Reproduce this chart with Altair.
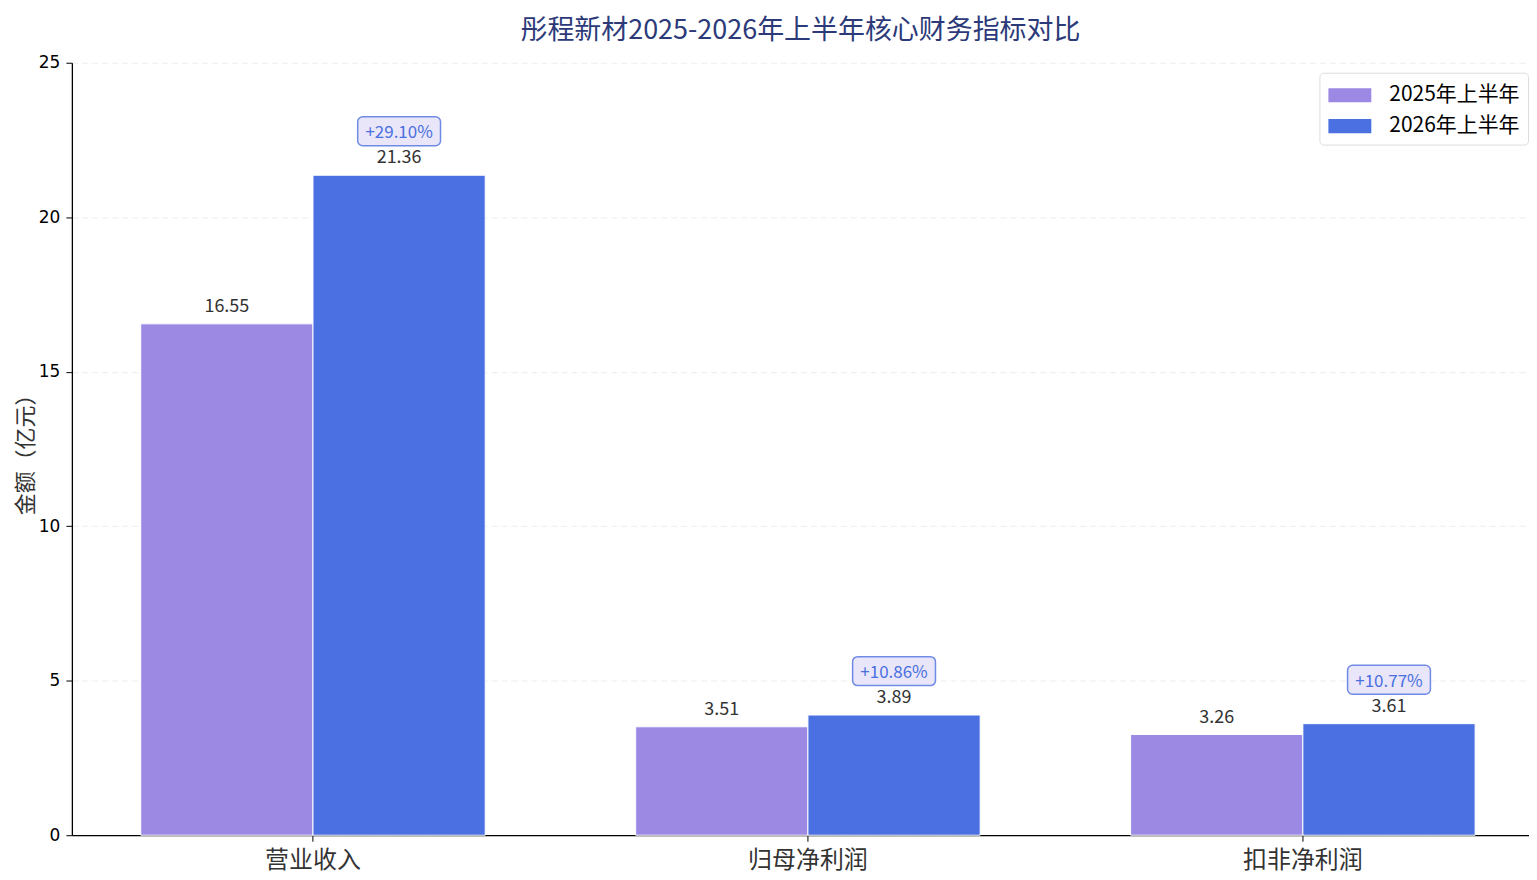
import altair as alt
import pandas as pd

categories = ["营业收入", "归母净利润", "扣非净利润"]
years = ["2025年上半年", "2026年上半年"]
v2025 = [16.55, 3.51, 3.26]
v2026 = [21.36, 3.89, 3.61]
growth = ["+29.10%", "+10.86%", "+10.77%"]

rows = []
for i, c in enumerate(categories):
    rows.append({"cat": c, "year": years[0], "value": v2025[i], "label": f"{v2025[i]:.2f}", "growth": ""})
    rows.append({"cat": c, "year": years[1], "value": v2026[i], "label": f"{v2026[i]:.2f}", "growth": growth[i]})
df = pd.DataFrame(rows)

FONT = "Noto Sans CJK SC"
C25 = "#9B89E4"
C26 = "#4A70E1"

x = alt.X("cat:N", sort=categories, title=None,
          scale=alt.Scale(paddingInner=0.304, paddingOuter=0.124, align=0.561),
          axis=alt.Axis(labelAngle=0, labelFontSize=24, labelFont=FONT, labelColor="#333333",
                        labelPadding=7, tickSize=6, tickColor="#000000", domainColor="#000000",
                        domainWidth=1.3, grid=False))
xo = alt.XOffset("year:N", sort=years, scale=alt.Scale(paddingInner=0, paddingOuter=0))
y = alt.Y("value:Q", title="金额（亿元）",
          scale=alt.Scale(domain=[0, 25], nice=False),
          axis=alt.Axis(values=[0, 5, 10, 15, 20, 25], labelFontSize=17, labelFont="DejaVu Sans",
                        labelColor="#000000", labelPadding=6, tickSize=6, tickColor="#000000",
                        domainColor="#000000", domainWidth=1.3, titleFontSize=22, titleFont=FONT,
                        titleColor="#333333", titleFontWeight="normal", titlePadding=1,
                        grid=True, gridColor="#e8e8e8", gridDash=[6, 4], gridWidth=0.8))

bars = alt.Chart(df).mark_bar(stroke="white", strokeWidth=1).encode(
    x=x, xOffset=xo, y=y,
    color=alt.Color("year:N", sort=years, title=None,
                    scale=alt.Scale(domain=years, range=[C25, C26]),
                    legend=alt.Legend(orient="none", legendX=1250, legendY=10,
                                      labelFont=FONT, labelFontSize=21, labelColor="#000000",
                                      symbolType="M-1.5,-0.49H1.5V0.49H-1.5Z", symbolSize=822,
                                      symbolStrokeWidth=0, symbolOpacity=1, symbolOffset=8,
                                      rowPadding=6, labelOffset=25, padding=8,
                                      strokeColor="#dddddd", fillColor="white", cornerRadius=4))
)

vals = alt.Chart(df).mark_text(baseline="middle", dy=-17, fontSize=18, font=FONT, color="#333333").encode(
    x=x, xOffset=xo, y="value:Q", text="label:N")

gdf = df[df["growth"] != ""]
boxes = alt.Chart(gdf).mark_rect(width=83, height=29, cornerRadius=5, yOffset=-44,
                                 fill="#E8E6F8", stroke="#6F8BE6", strokeWidth=1.5).encode(
    x=x, xOffset=xo, y="value:Q")
gtext = alt.Chart(gdf).mark_text(baseline="middle", dy=-42, fontSize=17, font=FONT, color="#4A6FE0").encode(
    x=x, xOffset=xo, y="value:Q", text="growth:N")

chart = alt.layer(bars, vals, boxes, gtext).properties(
    width=1460, height=774,
    title=alt.TitleParams("彤程新材2025-2026年上半年核心财务指标对比", fontSize=27, font=FONT,
                          color="#2C3A7A", fontWeight="normal", offset=9, anchor="middle"),
    autosize=alt.AutoSizeParams(type="none"),
    padding={"left": 64, "top": 54, "right": 0, "bottom": 41},
).configure_view(stroke=None)

chart.save("out.html", embed_options={"renderer": "svg", "actions": False})
